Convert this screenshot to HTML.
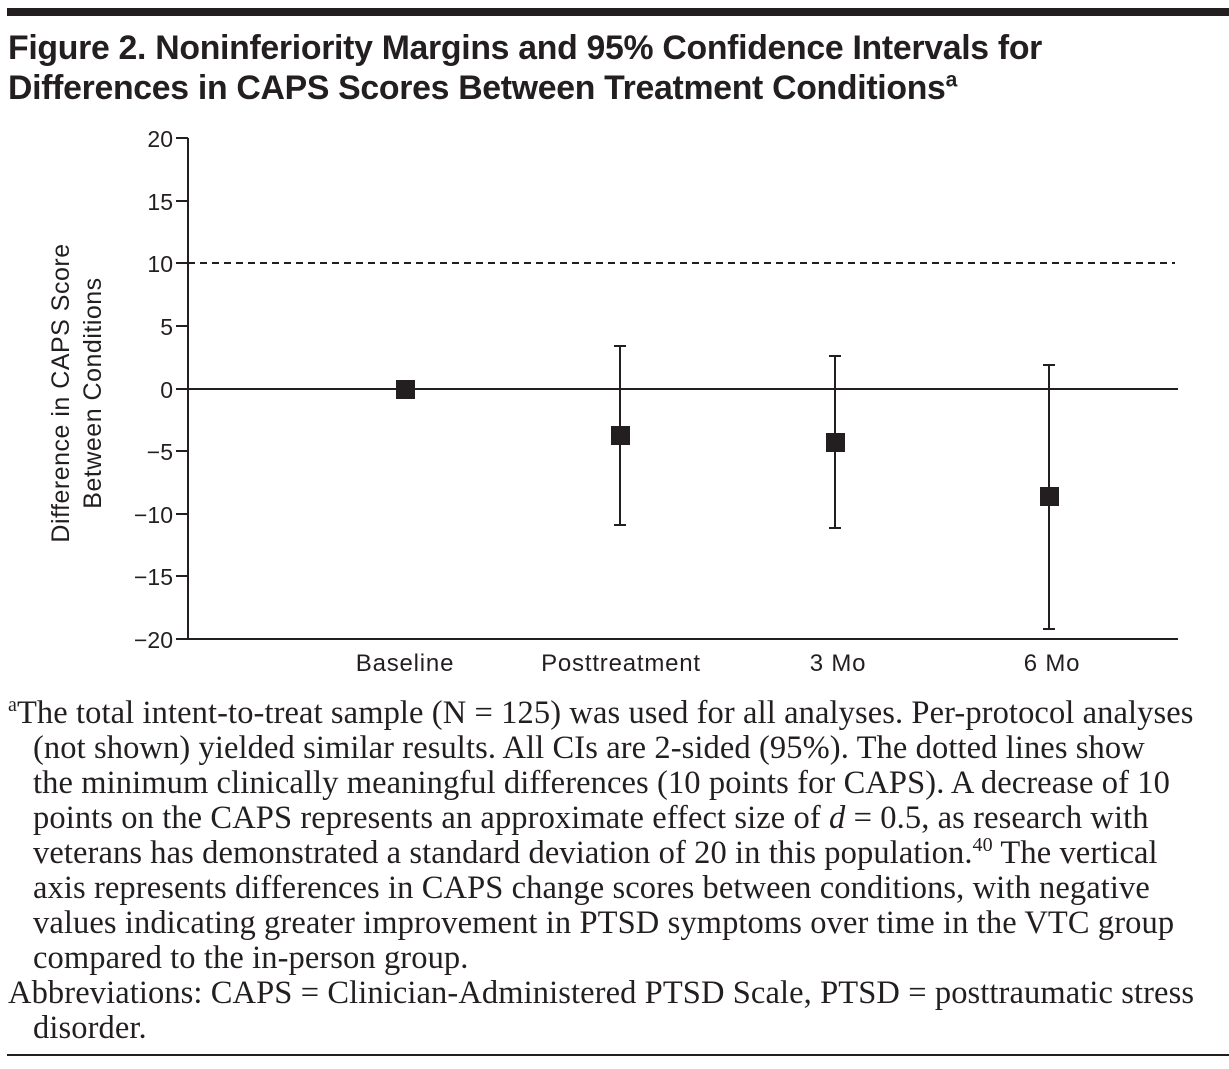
<!DOCTYPE html>
<html><head><style>
body{margin:0;background:#fff;width:1229px;height:1069px;overflow:hidden;position:relative}
.t{position:absolute;left:8px;top:28px;font:bold 33.8px/40px "Liberation Sans",sans-serif;letter-spacing:-0.3px;color:#231f20;white-space:nowrap}
.fn{position:absolute;left:8px;top:696px;font:32.5px/35px "Liberation Serif",serif;letter-spacing:0.1px;color:#231f20;white-space:nowrap}
.fn div{padding-left:25px}
.fn div.f{padding-left:0}
</style></head><body>
<div style="position:absolute;left:7px;top:8px;width:1222px;height:8px;background:#231f20"></div>
<div class="t">Figure 2. Noninferiority Margins and 95% Confidence Intervals for<br>Differences in CAPS Scores Between Treatment Conditions<sup style="font-size:21px;line-height:0">a</sup></div>
<svg width="1229" height="1069" style="position:absolute;left:0;top:0" font-family="'Liberation Sans',sans-serif" font-size="23" fill="#231f20">
<g stroke="#231f20" stroke-width="2">
<line x1="188" y1="138" x2="188" y2="639"/>
<line x1="187" y1="639" x2="1178" y2="639"/>
<line x1="188" y1="389" x2="1178" y2="389"/>
<line x1="188" y1="263" x2="1175" y2="263" stroke-dasharray="7,5"/>
<line x1="176" y1="138" x2="188" y2="138"/><line x1="176" y1="201" x2="188" y2="201"/>
<line x1="176" y1="263" x2="188" y2="263"/><line x1="176" y1="326" x2="188" y2="326"/>
<line x1="176" y1="389" x2="188" y2="389"/><line x1="176" y1="451" x2="188" y2="451"/>
<line x1="176" y1="514" x2="188" y2="514"/><line x1="176" y1="576" x2="188" y2="576"/>
<line x1="176" y1="639" x2="188" y2="639"/>
<line x1="620" y1="346" x2="620" y2="525"/><line x1="614" y1="346" x2="626" y2="346"/><line x1="614" y1="525" x2="626" y2="525"/>
<line x1="835" y1="356" x2="835" y2="528"/><line x1="829" y1="356" x2="841" y2="356"/><line x1="829" y1="528" x2="841" y2="528"/>
<line x1="1049" y1="365" x2="1049" y2="629"/><line x1="1043" y1="365" x2="1055" y2="365"/><line x1="1043" y1="629" x2="1055" y2="629"/>
</g>
<rect x="396" y="380" width="19" height="19"/>
<rect x="611" y="426" width="19" height="19"/>
<rect x="826" y="433" width="19" height="19"/>
<rect x="1040" y="487" width="19" height="19"/>
<g text-anchor="end">
<text x="173" y="147">20</text><text x="173" y="210">15</text><text x="173" y="272">10</text>
<text x="173" y="335">5</text><text x="173" y="398">0</text><text x="173" y="460">−5</text>
<text x="173" y="523">−10</text><text x="173" y="585">−15</text><text x="173" y="648">−20</text>
</g>
<g text-anchor="middle" font-size="24" letter-spacing="0.8">
<text x="405" y="671">Baseline</text><text x="621" y="671">Posttreatment</text>
<text x="838" y="671">3 Mo</text><text x="1052" y="671">6 Mo</text>
<text transform="translate(69,393) rotate(-90)" font-size="25" letter-spacing="0.5">Difference in CAPS Score</text>
<text transform="translate(101,393) rotate(-90)" font-size="25" letter-spacing="0.5">Between Conditions</text>
</g>
<line x1="7" y1="1055" x2="1229" y2="1055" stroke="#231f20" stroke-width="2"/>
</svg>
<div class="fn">
<div class="f"><sup style="font-size:20px;line-height:0">a</sup>The total intent-to-treat sample (N = 125) was used for all analyses. Per-protocol analyses</div>
<div>(not shown) yielded similar results. All CIs are 2-sided (95%). The dotted lines show</div>
<div>the minimum clinically meaningful differences (10 points for CAPS). A decrease of 10</div>
<div>points on the CAPS represents an approximate effect size of <i>d</i> = 0.5, as research with</div>
<div>veterans has demonstrated a standard deviation of 20 in this population.<sup style="font-size:20px;line-height:0">40</sup> The vertical</div>
<div>axis represents differences in CAPS change scores between conditions, with negative</div>
<div>values indicating greater improvement in PTSD symptoms over time in the VTC group</div>
<div>compared to the in-person group.</div>
<div class="f">Abbreviations: CAPS = Clinician-Administered PTSD Scale, PTSD = posttraumatic stress</div>
<div>disorder.</div>
</div>
</body></html>
